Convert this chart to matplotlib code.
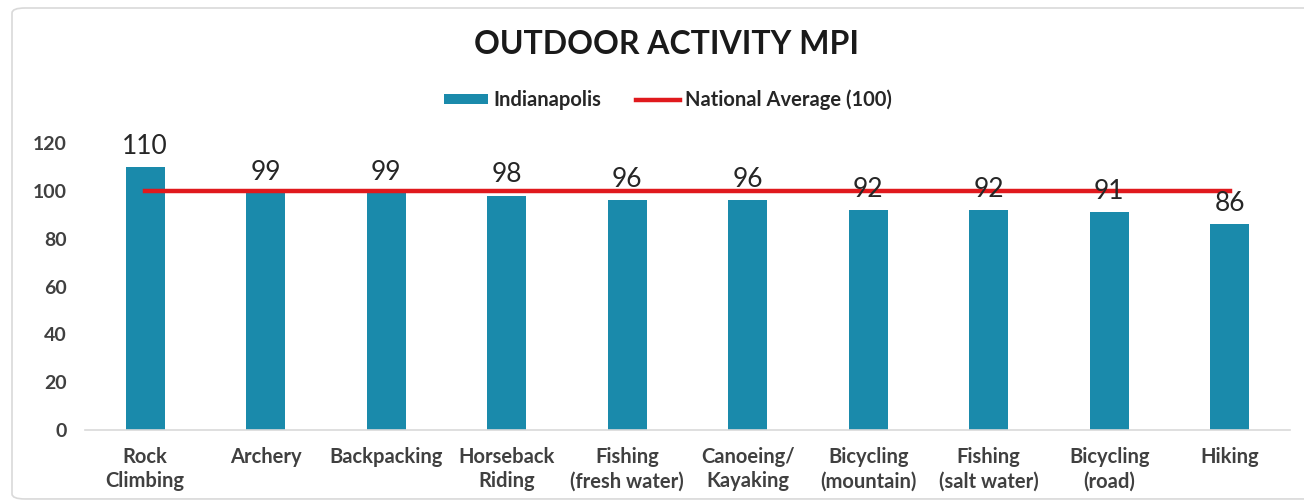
import matplotlib
matplotlib.use("Agg")
import matplotlib.pyplot as plt
from matplotlib.patches import FancyBboxPatch
import numpy as np

categories = ["Rock\nClimbing", "Archery", "Backpacking", "Horseback\nRiding",
              "Fishing\n(fresh water)", "Canoeing/\nKayaking", "Bicycling\n(mountain)",
              "Fishing\n(salt water)", "Bicycling\n(road)", "Hiking"]
indianapolis = [110, 99, 99, 98, 96, 96, 92, 92, 91, 86]
national_avg = [100] * len(categories)
yticks = [0, 20, 40, 60, 80, 100, 120]

plt.rcParams['font.family'] = ['Lato', 'DejaVu Sans']

fig = plt.figure(figsize=(13.04, 5.04), dpi=100)
fig.patches.append(FancyBboxPatch((12/1304, 0.01), 1.2, 1 - 8/504 - 0.01,
                                  boxstyle="round,pad=0,rounding_size=0.01",
                                  transform=fig.transFigure, fill=False,
                                  edgecolor="#d9d9d9", linewidth=1.2))
ax = fig.add_axes([85/1304, 1 - 430/504, (1290 - 85)/1304, (430 - 143)/504])

x = np.arange(len(categories))
bar_color = "#1a8aab"
bars = ax.bar(x, indianapolis, width=0.32, color=bar_color, label="Indianapolis", zorder=2)
line, = ax.plot(x, national_avg, color="#e0191d", linewidth=3.2,
                label="National Average (100)", zorder=3)

for xi, v in zip(x, indianapolis):
    ax.annotate(str(v), (xi, v), xytext=(0, 6), textcoords="offset points",
                ha="center", va="bottom", fontsize=19, color="#262626", zorder=4)

ax.set_xlim(-0.5, len(categories) - 0.5)
ax.set_ylim(0, 120)
ax.set_yticks(yticks)
ax.set_xticks(x)
ax.set_xticklabels(categories, fontsize=14.5, color="#404040", fontweight="bold",
                   linespacing=1.3)
ax.tick_params(axis="y", labelsize=14, labelcolor="#404040", length=0, pad=13)
ax.tick_params(axis="x", length=0, pad=12)
for lab in ax.get_yticklabels():
    lab.set_fontweight("bold")
for s in ["top", "right", "left"]:
    ax.spines[s].set_visible(False)
ax.spines["bottom"].set_color("#d9d9d9")
ax.spines["bottom"].set_linewidth(1.2)

fig.text(666/1304, 1 - 45/504, "OUTDOOR ACTIVITY MPI", ha="center", va="center",
         fontsize=23, fontweight="bold", color="#1a1a1a")

leg = fig.legend([bars, line], ["Indianapolis", "National Average (100)"], loc="center",
                 bbox_to_anchor=(668/1304, 1 - 100/504),
                 ncol=2, frameon=False, fontsize=14.5, handlelength=2.2, handleheight=0.4,
                 columnspacing=1.7, handletextpad=0.25)
for t in leg.get_texts():
    t.set_color("#262626")
    t.set_fontweight("bold")

fig.savefig("out.png", dpi=100)
